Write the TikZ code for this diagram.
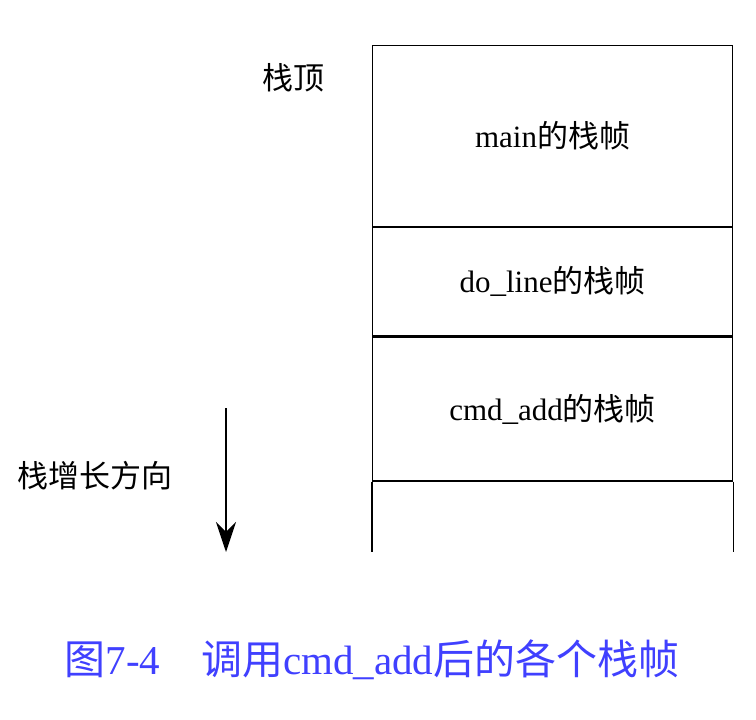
\documentclass[tikz,border=0pt]{standalone}
\usepackage{fontspec}
\setmainfont{Liberation Serif}
\newfontfamily\cjk{Noto Sans CJK SC}
\usetikzlibrary{positioning, arrows.meta}
\begin{document}
\begin{tikzpicture}[x=1pt, y=-1pt, font=\fontsize{31}{35}\selectfont,
    frame/.style={rectangle, draw, line width=1.2pt, minimum width=360pt, inner sep=0pt, anchor=north west}]
    \useasboundingbox (0,0) rectangle (756,720);
    % Define frames
    \node [frame, minimum height=181pt] (main) at (372,45) {main{\cjk 的栈帧}};
    \node [frame, minimum height=108pt, below=0pt of main] (doline) {do\_line{\cjk 的栈帧}};
    \node [frame, minimum height=144pt, below=0pt of doline] (cmdadd) {cmd\_add{\cjk 的栈帧}};
    \coordinate (bl) at (cmdadd.south west |- 0,552);
    \coordinate (br) at (cmdadd.south east |- 0,552);
    \draw [line width=1.2pt] (cmdadd.south west) -- (bl);
    \draw [line width=1.2pt] (cmdadd.south east) -- (br);
    % Labels and arrow
    \node (top) at (293,78) {\cjk 栈顶};
    \node (grow) at (95,476) {\cjk 栈增长方向};
    \coordinate (a1) at (226,408);
    \coordinate (a2) at (226,552);
    \draw [line width=1.4pt, -{Stealth[length=30pt, width=20pt]}] (a1) -- (a2);
    % Caption
    \node [text=blue!75!white, font=\fontsize{41}{45}\selectfont] (cap) at (372,660)
        {{\cjk 图}7-4\quad{\cjk 调用}cmd\_add{\cjk 后的各个栈帧}};
\end{tikzpicture}
\end{document}
